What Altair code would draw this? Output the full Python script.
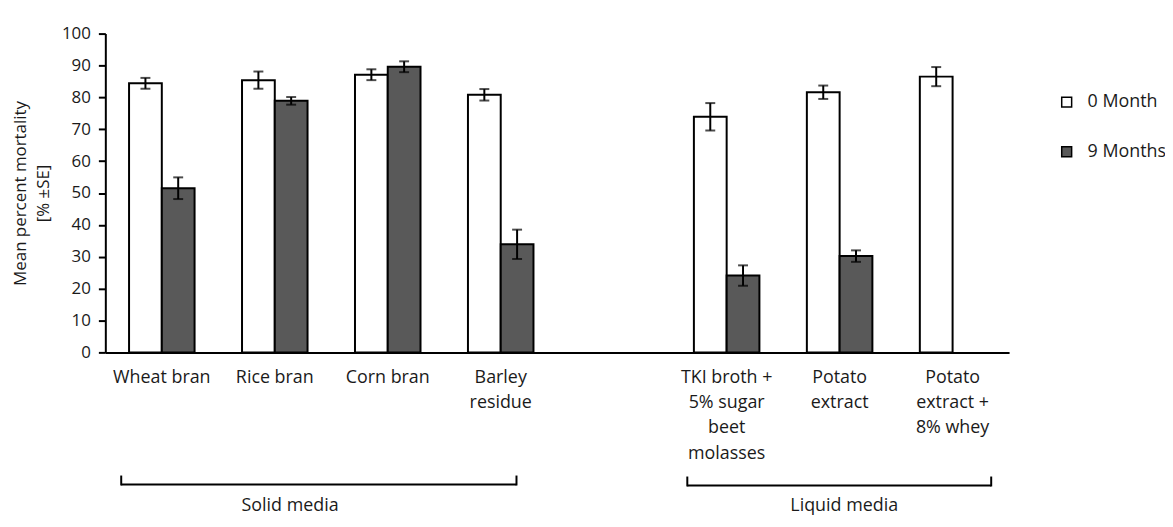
import json
import altair as alt
import pandas as pd

# ---- data ----
categories = ["Wheat bran", "Rice bran", "Corn bran", "Barley residue", "gap",
              "TKI broth + 5% sugar beet molasses", "Potato extract",
              "Potato extract + 8% whey"]
label_lines = [["Wheat bran"], ["Rice bran"], ["Corn bran"], ["Barley", "residue"], [""],
               ["TKI broth +", "5% sugar", "beet", "molasses"], ["Potato", "extract"],
               ["Potato", "extract +", "8% whey"]]
series = ["0 Month", "9 Months"]
month0 = [84.4, 85.4, 87.1, 80.8, None, 73.9, 81.6, 86.5]
month0_se = [1.7, 2.7, 1.7, 1.8, None, 4.3, 2.1, 3.0]
month9 = [51.5, 78.9, 89.6, 33.9, None, 24.1, 30.2, None]
month9_se = [3.4, 1.2, 1.7, 4.6, None, 3.2, 1.8, None]
y_ticks = [0, 10, 20, 30, 40, 50, 60, 70, 80, 90, 100]
groups = ["Solid media", "Liquid media"]

rows = []
for i, c in enumerate(categories):
    for s, vals, ses in ((series[0], month0, month0_se), (series[1], month9, month9_se)):
        v = vals[i]
        if v is None:
            continue
        rows.append({"medium": c, "age": s, "mortality": v,
                     "lo": v - ses[i], "hi": v + ses[i]})
df = pd.DataFrame(rows)

label_map = {c: l for c, l in zip(categories, label_lines)}
label_expr = "(" + json.dumps(label_map) + ")[datum.value]"

FONT = "Open Sans"
TXT = "#1a1a1a"

x_scale = alt.Scale(domain=categories, paddingInner=0.42, paddingOuter=0.21)
x_axis = alt.Axis(title=None, labelExpr=label_expr, labelAngle=0,
                  labelFontSize=18, labelLineHeight=25.5, labelPadding=16,
                  labelLimit=0, labelOverlap=False, ticks=False, tickSize=0,
                  domainColor="black", domainWidth=2, labelColor=TXT,
                  labelFont=FONT)
y_scale = alt.Scale(domain=[0, 100], nice=False)
y_axis = alt.Axis(values=y_ticks, tickCount=11, title=["Mean percent mortality", "[% ±SE]"],
                  titleFontSize=17, titleFontWeight="normal", titleFont=FONT,
                  titleLineHeight=23, titlePadding=9, titleColor=TXT,
                  labelFontSize=17, labelFont=FONT, labelColor=TXT, labelOverlap=False,
                  labelPadding=8, tickSize=7, tickWidth=2, tickColor="black",
                  domainColor="black", domainWidth=2, grid=False)


def X():
    return alt.X("medium:N", sort=categories, scale=x_scale, axis=x_axis)


def Y(field):
    return alt.Y(field, scale=y_scale, axis=y_axis)


xoff = alt.XOffset("age:N", sort=series,
                   scale=alt.Scale(domain=series, paddingInner=0, paddingOuter=0))

base = alt.Chart(df)

bars = base.mark_bar(stroke="black", strokeWidth=2).encode(
    x=X(),
    xOffset=xoff,
    y=Y("mortality:Q"),
    color=alt.Color("age:N", sort=series,
                    scale=alt.Scale(domain=series, range=["white", "#595959"]),
                    legend=alt.Legend(title=None, orient="none", legendX=959, legendY=60,
                                      symbolType="square", symbolSize=100,
                                      symbolStrokeColor="black", symbolStrokeWidth=1.5,
                                      labelFontSize=18, labelFont=FONT, labelColor=TXT,
                                      labelOffset=12, rowPadding=32, padding=0)),
)

err = base.mark_rule(color="black", strokeWidth=2).encode(
    x=X(), xOffset=xoff, y=Y("lo:Q"), y2="hi:Q")

cap_lo = base.mark_tick(color="black", thickness=2, size=10, orient="horizontal").encode(
    x=X(), xOffset=xoff, y=Y("lo:Q"))
cap_hi = base.mark_tick(color="black", thickness=2, size=10, orient="horizontal").encode(
    x=X(), xOffset=xoff, y=Y("hi:Q"))

# group brackets below the axis (annotation positions in pixels), one row each
solid_df = pd.DataFrame({"g": [groups[0]]})
liq_df = pd.DataFrame({"g": [groups[1]]})
sb = alt.Chart(solid_df)
lb = alt.Chart(liq_df)
solid_h = sb.mark_rule(color="black", strokeWidth=2).encode(
    x=alt.value(16), x2=alt.value(414), y=alt.value(454))
solid_l = sb.mark_rule(color="black", strokeWidth=2).encode(
    x=alt.value(16), y=alt.value(445), y2=alt.value(455))
solid_r = sb.mark_rule(color="black", strokeWidth=2).encode(
    x=alt.value(414), y=alt.value(445), y2=alt.value(455))
liq_h = lb.mark_rule(color="black", strokeWidth=2).encode(
    x=alt.value(586), x2=alt.value(892), y=alt.value(455))
liq_l = lb.mark_rule(color="black", strokeWidth=2).encode(
    x=alt.value(586), y=alt.value(446), y2=alt.value(456))
liq_r = lb.mark_rule(color="black", strokeWidth=2).encode(
    x=alt.value(892), y=alt.value(446), y2=alt.value(456))
solid_t = sb.mark_text(fontSize=18, font=FONT, color=TXT, fontWeight="normal",
                       baseline="alphabetic").encode(
    x=alt.value(186), y=alt.value(481), text="g:N")
liq_t = lb.mark_text(fontSize=18, font=FONT, color=TXT, fontWeight="normal",
                     baseline="alphabetic").encode(
    x=alt.value(744), y=alt.value(481), text="g:N")

chart = alt.layer(bars, err, cap_lo, cap_hi,
                  solid_h, solid_l, solid_r, liq_h, liq_l, liq_r, solid_t, liq_t).properties(
    width=910, height=321,
    autosize=alt.AutoSizeParams(type="none"),
    padding={"left": 98, "top": 24, "right": 157, "bottom": 166},
).configure(font=FONT).configure_view(stroke=None)

chart.save("out.html", embed_options={"renderer": "svg", "actions": False})
